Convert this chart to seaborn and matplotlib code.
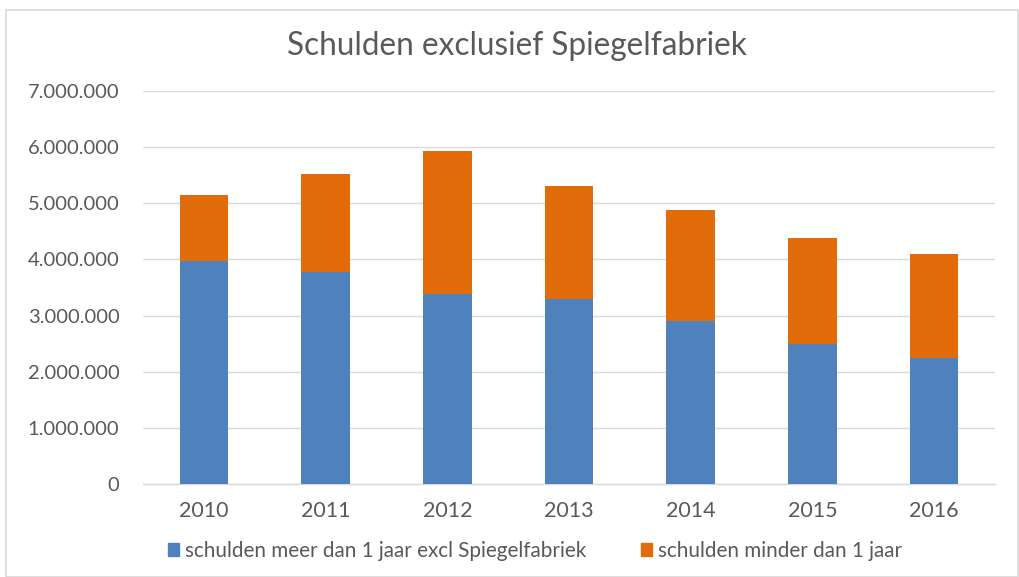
import matplotlib
matplotlib.use("Agg")
import matplotlib.pyplot as plt
import seaborn as sns
import pandas as pd
from matplotlib.patches import Rectangle
from matplotlib.ticker import FuncFormatter

years = ["2010", "2011", "2012", "2013", "2014", "2015", "2016"]
meer_dan_1_jaar = [3980000, 3780000, 3380000, 3290000, 2910000, 2500000, 2250000]
minder_dan_1_jaar = [1160000, 1750000, 2550000, 2020000, 1970000, 1890000, 1850000]
series_names = ["schulden meer dan 1 jaar excl Spiegelfabriek", "schulden minder dan 1 jaar"]
title = "Schulden exclusief Spiegelfabriek"

blue = "#4f81bd"
orange = "#e36c0a"
text_col = "#595959"
grid_col = "#d9d9d9"

df = pd.DataFrame({"jaar": years, "meer": meer_dan_1_jaar, "minder": minder_dan_1_jaar})
df["totaal"] = df["meer"] + df["minder"]

sns.set_theme(style="white")
plt.rcParams["font.family"] = ["Lato", "DejaVu Sans"]

fig = plt.figure(figsize=(10.2, 5.77), dpi=100)
ax = fig.add_axes([143/1020, 1 - 484/577, (995-143)/1020, (484-91)/577])

sns.barplot(data=df, x="jaar", y="totaal", color=orange, saturation=1, width=0.4, ax=ax,
            edgecolor="none", zorder=2)
sns.barplot(data=df, x="jaar", y="meer", color=blue, saturation=1, width=0.4, ax=ax,
            edgecolor="none", zorder=3)

ax.set_ylim(0, 7000000)
ax.set_yticks(range(0, 7000001, 1000000))
ax.yaxis.set_major_formatter(FuncFormatter(lambda v, p: f"{int(v):,}".replace(",", ".")))
ax.set_xlim(-0.5, 6.5)
ax.grid(axis="y", color=grid_col, linewidth=1, zorder=0)
ax.set_axisbelow(True)
for s in ["top", "right", "left"]:
    ax.spines[s].set_visible(False)
ax.spines["bottom"].set_color(grid_col)
ax.spines["bottom"].set_linewidth(1)
ax.set_xlabel("")
ax.set_ylabel("")
ax.tick_params(axis="y", length=0, pad=17, labelsize=14.5, labelcolor=text_col)
ax.tick_params(axis="x", length=0, pad=12, labelsize=15.5, labelcolor=text_col)

fig.text(517/1020, 1 - 46/577, title, ha="center", va="center", fontsize=22.7, color=text_col)

# legend
handles = [Rectangle((0, 0), 1, 1, color=blue), Rectangle((0, 0), 1, 1, color=orange)]
fig.legend(handles, series_names, loc="center", bbox_to_anchor=(535/1020, 1 - 551/577),
           ncol=2, frameon=False, fontsize=14.9, labelcolor=text_col,
           handlelength=0.55, handleheight=0.55, handletextpad=0.3, columnspacing=2.6,
           borderpad=0, borderaxespad=0)

fig.patches.append(Rectangle((6/1020, 0), 1012/1020, 1 - 10/577, transform=fig.transFigure,
                             fill=False, edgecolor=grid_col, linewidth=1.2))

fig.savefig("out.png", dpi=100)
